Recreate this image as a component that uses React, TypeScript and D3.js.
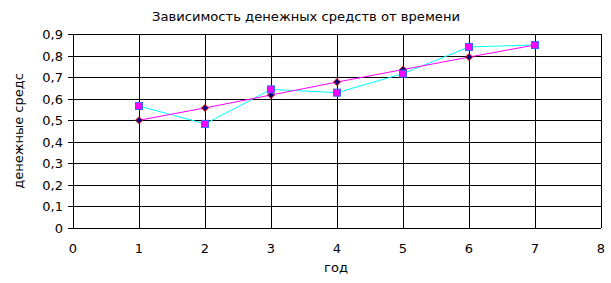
import React from "react";
import * as d3 from "d3";

const years = [1, 2, 3, 4, 5, 6, 7];
const trendValues = [0.5, 0.557, 0.617, 0.677, 0.735, 0.793, 0.849];
const actualValues = [0.566, 0.483, 0.643, 0.628, 0.716, 0.84, 0.849];
const xTicks = [0, 1, 2, 3, 4, 5, 6, 7, 8];
const yTicks = [0, 0.1, 0.2, 0.3, 0.4, 0.5, 0.6, 0.7, 0.8, 0.9];
const title = "Зависимость денежных средств от времени";
const xTitle = "год";
const yTitle = "денежные средс";

const W = 611;
const H = 283;
const left = 73;
const right = 601;
const top = 34;
const bottom = 228;

export default function App() {
  const x = d3.scaleLinear().domain([0, 8]).range([left, right]);
  const y = d3.scaleLinear().domain([0, 0.9]).range([bottom, top]);
  const line = d3
    .line<number>()
    .x((_, i) => x(years[i]))
    .y((d) => y(d));
  const font = "'DejaVu Sans', Verdana, sans-serif";
  const fmt = (v: number) => (v === 0 ? "0" : v.toFixed(1).replace(".", ","));
  return (
    <svg
      width={W}
      height={H}
      style={{ position: "absolute", left: 0, top: 0, background: "#fff" }}
      fontFamily={font}
    >
      <rect x={0} y={0} width={W} height={H} fill="#fff" />
      <text x={306} y={21} textAnchor="middle" fontSize={13} fill="#000" textLength={308} lengthAdjust="spacingAndGlyphs">
        {title}
      </text>
      {yTicks.map((t) => (
        <g key={"y" + t}>
          <line x1={left - 5} x2={right} y1={Math.round(y(t)) + 0.5} y2={Math.round(y(t)) + 0.5} stroke="#000" strokeWidth={1} />
          <text x={63} y={y(t) + 5} textAnchor="end" fontSize={13} fill="#000">
            {fmt(t)}
          </text>
        </g>
      ))}
      {xTicks.map((t) => (
        <g key={"x" + t}>
          <line x1={Math.round(x(t)) + 0.5} x2={Math.round(x(t)) + 0.5} y1={top} y2={bottom} stroke="#000" strokeWidth={1} />
          <text x={x(t)} y={253} textAnchor="middle" fontSize={13} fill="#000">
            {t}
          </text>
        </g>
      ))}
      <text x={336} y={272} textAnchor="middle" fontSize={13} fill="#000">
        {xTitle}
      </text>
      <text
        transform={`translate(23, ${131}) rotate(-90)`}
        textAnchor="middle"
        fontSize={13}
        fill="#000"
      >
        {yTitle}
      </text>
      <path d={line(actualValues) || ""} fill="none" stroke="#00ffff" strokeWidth={1} />
      <path d={line(trendValues) || ""} fill="none" stroke="#ff00ff" strokeWidth={1} />
      {trendValues.map((v, i) => {
        const cx = x(years[i]);
        const cy = y(v);
        return (
          <path
            key={"d" + i}
            d={`M${cx},${cy - 3.5}L${cx + 3.5},${cy}L${cx},${cy + 3.5}L${cx - 3.5},${cy}Z`}
            fill="#000080"
            stroke="#ff0000"
            strokeWidth={1}
          />
        );
      })}
      {actualValues.map((v, i) => (
        <rect
          key={"s" + i}
          x={x(years[i]) - 3.5}
          y={y(v) - 3.5}
          width={7}
          height={7}
          fill="#ff00ff"
          stroke="#3366ff"
          strokeWidth={1}
        />
      ))}
    </svg>
  );
}
